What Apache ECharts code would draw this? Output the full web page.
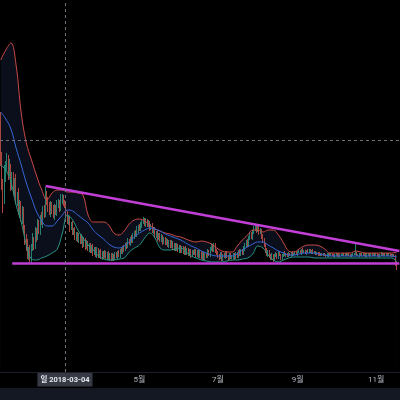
<!DOCTYPE html>
<html><head><meta charset="utf-8">
<script src="https://cdn.jsdelivr.net/npm/echarts@6/dist/echarts.min.js"></script>
<style>html,body{margin:0;padding:0;background:#000;}#c{width:400px;height:400px;}</style>
</head><body><div id="c"></div>
<script>
// ---- data ----
const startDate = '2018-01-13';
const axisDays = 311;              // 2018-01-13 .. 2018-11-19
const firstOpen = 255;
const closes = [
212,187,172,197,207,212,200,204,187,194,
182,190,172,177,162,167,154,160,144,134,
127,117,122,114,124,132,127,140,136,147,
142,154,150,162,158,177,172,164,160,167,
162,157,164,160,167,169,164,172,174,169,
167,157,150,154,144,147,140,142,134,138,
132,136,130,134,127,132,125,129,123,127,
121,125,119,123,117,122,116,120,115,119,
116,119,115,118,114,117,113,116,114,117,
116,119,117,121,120,124,123,127,126,130,
129,133,131,136,139,137,142,145,143,147,
150,152,148,151,147,149,144,146,141,143,
136,139,134,137,132,135,130,133,129,131,
127,130,126,129,124,127,123,126,122,125,
121,124,120,123,119,122,118,121,117,120,
119,121,117,120,116,119,115,118,114,117,
116,120,118,123,126,122,127,121,119,116,
114,118,113,117,115,119,116,113,117,115,
115,117,114,118,116,120,118,121,119,123,
126,130,128,134,137,135,140,143,145,142,
144,140,141,136,131,127,122,118,120,116,
114,117,113,116,118,115,119,117,114,116,
119,117,118,116,118,117,119,117,118,120,
118,120,121,119,122,120,121,119,121,120,
122,120,121,119,120,118,119,118,117,118,
117,118,117,116,117,118,117,118,117,116,
117,118,117,116,117,117,118,117,118,117,
118,117,116,117,118,118,119,117,117,118,
117,118,117,118,116,117,118,117,118,117,
118,117,118,117,116,117,118,117,118,117,
118,117,118,117,116,117,116,109,106];
const wickHigh = [
5,8,6,10,4,7,5,9,4,6, 6,4,8,3,7,5,4,6,5,3, 4,6,3,5,4,7,3,5,4,6, 5,3,6,4,5,8,4,3,6,4,
3,5,4,3,5,4,3,6,4,3, 3,2,4,3,2,3,4,2,3,2, 2,3,2,4,2,3,2,3,2,2, 2,2,3,2,2,3,2,2,3,2,
2,3,2,2,3,2,2,3,2,3, 3,2,3,2,4,2,3,2,3,4, 3,2,4,3,2,3,4,2,3,3, 2,3,2,3,2,3,2,2,3,2,
2,2,3,2,2,3,2,2,2,3, 2,2,2,3,2,2,2,3,2,2, 2,2,2,2,3,2,2,2,2,2, 2,2,2,2,2,3,2,2,2,2,
2,3,2,2,3,2,2,2,2,2, 2,2,2,1,2,2,2,1,2,2, 2,2,2,2,2,2,3,2,2,3, 3,2,3,2,3,3,2,3,3,2,
3,2,3,2,2,3,2,2,2,2, 2,2,1,2,2,1,2,2,1,2, 1,2,1,1,2,1,1,2,1,1, 1,1,2,1,1,2,1,1,1,2,
1,1,1,2,1,1,1,1,2,1, 1,1,1,1,2,1,1,1,1,1, 1,1,1,2,1,1,1,1,1,1, 1,1,1,1,1,1,11,1,1,1,
1,1,1,1,1,2,1,1,1,1, 1,1,1,1,1,1,2,1,1,1, 1,1,1,1,1,1,1,1,2];
const wickLow = [
6,5,13,4,7,5,8,4,6,5, 5,7,4,6,5,8,4,6,5,7, 6,4,5,4,6,3,5,4,6,4, 4,5,3,6,4,3,5,4,3,5,
4,3,5,3,4,3,4,3,4,3, 3,3,2,3,4,2,3,3,2,3, 2,3,2,2,3,2,3,2,2,3, 2,2,3,2,2,3,2,2,2,3,
3,2,2,3,2,3,2,2,3,2, 2,3,2,3,2,2,3,2,3,2, 2,3,2,2,3,2,2,3,2,2, 3,2,2,3,2,2,3,2,2,3,
2,2,3,2,2,2,3,2,2,2, 2,3,2,2,2,3,2,2,2,3, 2,2,2,3,2,2,2,2,3,2, 2,2,3,2,2,2,2,3,2,2,
2,2,2,3,2,2,2,2,2,2, 2,1,2,2,1,2,2,2,1,2, 2,2,2,1,2,2,2,2,2,2, 2,2,3,2,2,2,3,2,2,3,
2,3,2,3,2,2,3,2,3,2, 2,2,3,2,1,2,2,1,2,2, 1,1,2,1,1,1,2,1,1,1, 1,2,1,1,2,1,1,1,2,1,
1,1,2,1,1,1,1,2,1,1, 1,1,1,1,1,2,1,1,1,1, 1,1,2,1,1,1,1,1,1,1, 1,1,1,1,1,1,1,1,1,2,
1,1,1,1,1,1,1,2,1,1, 1,1,1,1,2,1,1,1,1,1, 1,1,1,1,1,1,1,3,4];
const bandStep = 4; // days between band samples
const bbUpper = [312,322,329,307,259,229,212,196,182,172,179,182,182,180,180,179,177,157,150,150,
150,147,139,137,141,148,152,153,151,147,143,141,139,138,136,135,133,131,130,131,
130,128,124,121,120,120,126,132,137,142,142,140,142,142,137,129,121,120,123,126,
127,127,126,123,119,119,119,119,119,121,120,119,119,119,119,119,119,120];
const bbMid = [260,253,243,224,207,189,174,160,151,146,146,151,157,162,161,157,153,149,142,137,
133,128,125,124,126,130,135,139,142,144,143,141,138,136,134,132,129,126,124,121,
119,117,116,116,116,116,118,122,125,128,130,130,127,124,121,119,117,117,118,119,
119,119,118,117,116,116,116,116,116,116,116,116,116,116,116,116,116,115];
const bbLower = [207,202,190,167,150,127,113,112,114,116,119,123,139,157,152,142,134,127,122,116,
113,112,112,113,114,120,124,127,134,139,134,124,122,122,123,124,120,116,114,112,
111,110,110,110,111,112,112,113,114,118,126,124,117,112,110,112,114,115,115,115,
115,114,114,114,114,114,114,114,114,114,114,114,114,114,114,114,114,110];
const trendTop = [['2018-02-17', 186], ['2018-11-19', 121]];
const trendBottom = [['2018-01-22', 108.5], ['2018-11-19', 108.5]];
const crossDate = '2018-03-04';
const crossPrice = 232;
const weekdays = ['일','월','화','수','목','금','토'];

// ---- build ----
const DAY = 86400000;
const t0 = Date.parse(startDate + 'T00:00:00Z');
const dates = Array.from({length: axisDays}, (_, i) => new Date(t0 + i * DAY).toISOString().slice(0, 10));
const candles = closes.map((c, i) => {
  const o = i === 0 ? firstOpen : closes[i - 1];
  return [o, c, Math.min(o, c) - wickLow[i], Math.max(o, c) + wickHigh[i]];
});
const band = arr => arr.map((v, k) => [dates[k * bandStep], v]);
const FONT = 'Roboto, "Noto Sans CJK KR", sans-serif';
const dash = {color: '#6f727c', width: 1, type: [3, 3]};

const chart = echarts.init(document.getElementById('c'), null, {renderer: 'canvas'});
chart.setOption({
  animation: false,
  backgroundColor: '#000000',
  grid: {left: 0, right: 0, top: 0, bottom: 28},
  xAxis: {
    type: 'category', data: dates, boundaryGap: true,
    axisLine: {show: true, lineStyle: {color: '#1c1f29'}},
    axisTick: {show: false}, splitLine: {show: false},
    axisLabel: {
      interval: (i, v) => v.slice(8) === '01' && (+v.slice(5, 7)) % 2 === 1,
      formatter: v => (+v.slice(5, 7)) + '월',
      color: '#b2b5be', fontSize: 8, margin: 4, fontFamily: FONT
    },
    axisPointer: {
      show: true, type: 'line', value: crossDate, status: 'show', triggerTooltip: false,
      lineStyle: dash,
      label: {
        show: true,
        formatter: p => { const d = typeof p.value === 'number' ? dates[p.value] : p.value;
          return weekdays[new Date(d + 'T00:00:00Z').getUTCDay()] + ' ' + d; },
        backgroundColor: '#363a45', color: '#e6e8ee', fontSize: 7.5, fontWeight: 'bold',
        fontFamily: FONT, padding: [3, 3, 3, 3], margin: 1, borderRadius: 0
      }
    }
  },
  yAxis: {
    type: 'value', min: 0, max: 372,
    axisLine: {show: false}, axisTick: {show: false}, axisLabel: {show: false}, splitLine: {show: false},
    axisPointer: {show: true, type: 'line', value: crossPrice, status: 'show', triggerTooltip: false,
      lineStyle: dash, label: {show: false}}
  },
  graphic: [{type: 'rect', left: 0, top: 388, shape: {width: 400, height: 12}, style: {fill: '#141822'}, silent: true}],
  series: [
    {type: 'line', data: band(bbUpper), smooth: 0.4, symbol: 'none', lineStyle: {width: 0},
     areaStyle: {color: '#0b0f1b', opacity: 1, origin: 'start'}, z: 1, silent: true},
    {type: 'line', data: band(bbLower), smooth: 0.4, symbol: 'none', lineStyle: {width: 0},
     areaStyle: {color: '#000000', opacity: 1, origin: 'start'}, z: 2, silent: true},
    {type: 'candlestick', data: candles, barWidth: 1, z: 3,
     itemStyle: {color: '#25806f', color0: '#a8463f', borderColor: '#25806f', borderColor0: '#a8463f', borderWidth: 1}},
    {type: 'line', data: band(bbUpper), smooth: 0.4, symbol: 'none', lineStyle: {color: '#c94a46', width: 1}, z: 4},
    {type: 'line', data: band(bbMid), smooth: 0.4, symbol: 'none', lineStyle: {color: '#3566d6', width: 1}, z: 4},
    {type: 'line', data: band(bbLower), smooth: 0.4, symbol: 'none', lineStyle: {color: '#2a9484', width: 1}, z: 4},
    {type: 'line', data: trendTop, symbol: 'none', lineStyle: {color: '#c13fd6', width: 2.5}, z: 5},
    {type: 'line', data: trendBottom, symbol: 'none', lineStyle: {color: '#c13fd6', width: 2.5}, z: 5}
  ]
});
</script></body></html>
